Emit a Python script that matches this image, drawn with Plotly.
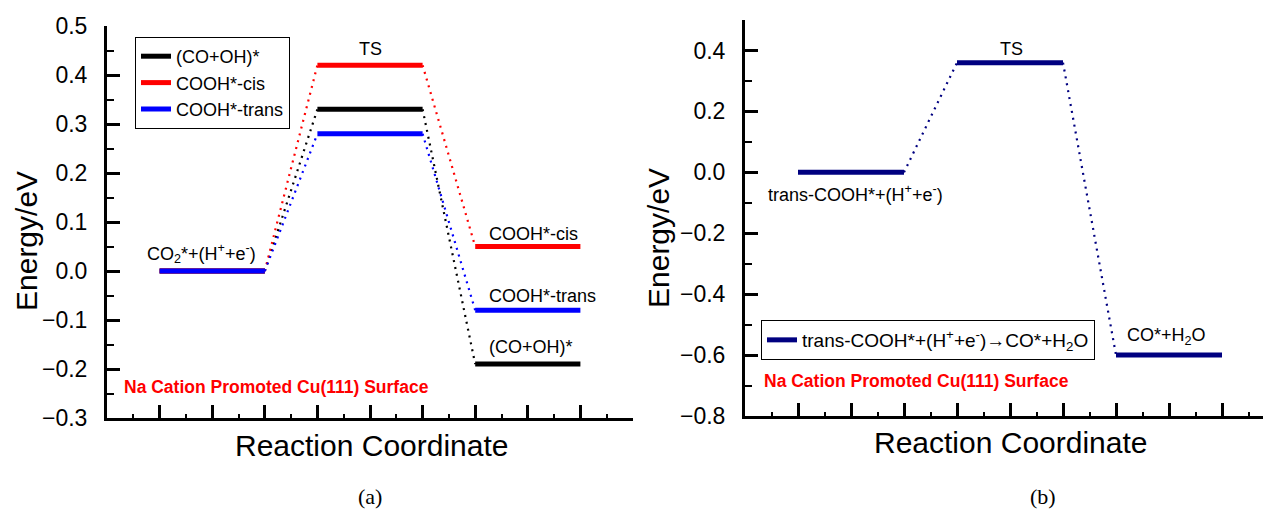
import plotly.graph_objects as go

# ---------------- data ----------------
stage_names = ["IS", "TS", "FS"]
stage_start = [1, 4, 7]
stage_end = [3, 6, 9]

series_a = ["(CO+OH)*", "COOH*-cis", "COOH*-trans"]
is_energy_a = [0.0, 0.0, 0.0]
ts_energy_a = [0.33, 0.42, 0.28]
fs_energy_a = [-0.19, 0.05, -0.08]

series_b = ["trans-COOH*+(H<sup>+</sup>+e<sup>-</sup>)\u2192CO*+H<sub>2</sub>O"]
energy_b = [0.0, 0.36, -0.60]

colors_a = ["#000000", "#FF0000", "#0000FF"]
color_b = "#000080"

# the page body has an 8px margin, so the figure origin sits at (8, 8)
OFF = 8
PAGE_W, PAGE_H = 1271, 516
W, H = PAGE_W - OFF, PAGE_H - OFF
FONT = "Liberation Sans, Arial, sans-serif"

fig = go.Figure()


def add_profile(levels, name, color, xa, ya, legend):
    xs, ys = [], []
    for s, e, v in zip(stage_start, stage_end, levels):
        xs += [s, e, None]
        ys += [v, v, None]
    fig.add_trace(go.Scatter(x=xs, y=ys, mode="lines", name=name,
                             line=dict(color=color, width=5),
                             xaxis=xa, yaxis=ya, legend=legend, showlegend=True,
                             hoverinfo="skip"))
    dx, dy = [], []
    for i in range(len(levels) - 1):
        dx += [stage_end[i], stage_start[i + 1], None]
        dy += [levels[i], levels[i + 1], None]
    fig.add_trace(go.Scatter(x=dx, y=dy, mode="lines", showlegend=False,
                             line=dict(color=color, width=2.2, dash="2px,5px"),
                             xaxis=xa, yaxis=ya, hoverinfo="skip"))


for name, c, e0, e1, e2 in zip(series_a, colors_a, is_energy_a, ts_energy_a, fs_energy_a):
    add_profile([e0, e1, e2], name, c, "x", "y", "legend")

add_profile(energy_b, series_b[0], color_b, "x2", "y2", "legend2")

# ---------------- axes ----------------
def px_x(p):
    return (p - OFF) / W


def px_y(p):
    return 1 - (p - OFF) / H


axis_common = dict(showline=True, linewidth=3, linecolor="black", showgrid=False,
                   zeroline=False, ticks="inside", tickcolor="black", tickwidth=2.5,
                   ticklen=13, automargin=False)

fig.update_layout(
    template="none",
    width=W, height=H,
    margin=dict(l=0, r=0, t=0, b=0, pad=0, autoexpand=False),
    paper_bgcolor="white", plot_bgcolor="white",
    font=dict(family=FONT, color="black"),
    xaxis=dict(domain=[px_x(107), px_x(633)], range=[0, 10], dtick=1, tick0=0,
               showticklabels=False, anchor="y",
               minor=dict(dtick=0.5, ticks="inside", ticklen=4, tickwidth=1.5, tickcolor="black"),
               **axis_common),
    yaxis=dict(domain=[px_y(418), px_y(26)], range=[-0.3, 0.5], dtick=0.1, tick0=0,
               tickformat=".1f", anchor="x", ticklabelstandoff=12,
               tickfont=dict(size=23, family=FONT),
               minor=dict(dtick=0.05, ticks="inside", ticklen=7, tickwidth=2, tickcolor="black"),
               **axis_common),
    xaxis2=dict(domain=[px_x(745), 1.0], range=[0, (PAGE_W - 745) / 53.0], dtick=1, tick0=0,
                showticklabels=False, anchor="y2",
                minor=dict(dtick=0.5, ticks="inside", ticklen=4, tickwidth=1.5, tickcolor="black"),
                **axis_common),
    yaxis2=dict(domain=[px_y(416), px_y(20)], range=[-0.8, 0.5], dtick=0.2, tick0=0,
                tickformat=".1f", anchor="x2", ticklabelstandoff=12,
                tickfont=dict(size=23, family=FONT),
                minor=dict(dtick=0.1, ticks="inside", ticklen=7, tickwidth=2, tickcolor="black"),
                **axis_common),
    legend=dict(x=px_x(135), y=px_y(37), xanchor="left", yanchor="top",
                bordercolor="black", borderwidth=1, bgcolor="white",
                font=dict(size=18, family=FONT), tracegroupgap=0,
                itemwidth=30),
    legend2=dict(x=px_x(761), y=px_y(320), xanchor="left", yanchor="top",
                 bordercolor="black", borderwidth=1, bgcolor="white",
                 font=dict(size=19, family=FONT), itemwidth=30),
    showlegend=True,
)

ann = []


def lab(text, x, y, xref, yref, yshift=0, size=18, xanchor="center", color="black",
        bold=False, family=FONT):
    ann.append(dict(text=("<b>%s</b>" % text) if bold else text, x=x, y=y, xref=xref, yref=yref,
                    xanchor=xanchor, yanchor="middle", yshift=yshift, showarrow=False,
                    font=dict(size=size, color=color, family=family)))


# left panel labels
lab("TS", 5, ts_energy_a[1], "x", "y", yshift=16)
lab("CO<sub>2</sub>*+(H<sup>+</sup>+e<sup>-</sup>)", 1.8, is_energy_a[0], "x", "y", yshift=18)
lab(series_a[1], 7.22, fs_energy_a[1], "x", "y", yshift=13, xanchor="left")
lab(series_a[2], 7.22, fs_energy_a[2], "x", "y", yshift=14, xanchor="left")
lab(series_a[0], 7.22, fs_energy_a[0], "x", "y", yshift=17, xanchor="left")
lab("Na Cation Promoted Cu(111) Surface", px_x(122), px_y(387), "paper", "paper",
    size=17.5, xanchor="left", color="#FF0000", bold=True)

# right panel labels
lab("TS", 5.02, energy_b[1], "x2", "y2", yshift=14)
lab("trans-COOH*+(H<sup>+</sup>+e<sup>-</sup>)", 2.08, energy_b[0], "x2", "y2", yshift=-21)
lab("CO*+H<sub>2</sub>O", 7.95, energy_b[2], "x2", "y2", yshift=19)
lab("Na Cation Promoted Cu(111) Surface", px_x(762), px_y(381), "paper", "paper",
    size=17.5, xanchor="left", color="#FF0000", bold=True)

# axis titles
lab("Reaction Coordinate", px_x(372), px_y(445), "paper", "paper", size=30)
lab("Reaction Coordinate", px_x(1011), px_y(442), "paper", "paper", size=30)
for xc, yc in [(26, 241), (658, 238)]:
    ann.append(dict(text="Energy/eV", x=px_x(xc), y=px_y(yc), xref="paper", yref="paper",
                    xanchor="center", yanchor="middle", textangle=-90, showarrow=False,
                    font=dict(size=30, family=FONT, color="black")))

# panel captions
lab("(a)", px_x(370), px_y(496), "paper", "paper", size=22, family="Liberation Serif, Times New Roman, serif")
lab("(b)", px_x(1043), px_y(496), "paper", "paper", size=22, family="Liberation Serif, Times New Roman, serif")

fig.update_layout(annotations=ann)

fig.write_html("out.html")
